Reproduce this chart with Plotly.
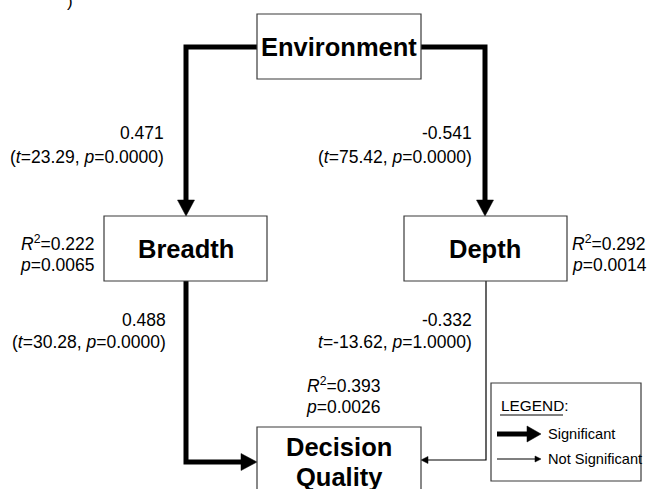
import plotly.graph_objects as go

# ---------------- data ----------------
node_names = ["Environment", "Breadth", "Depth", "Decision<br>Quality"]

path_from = ["Environment", "Environment", "Breadth", "Depth"]
path_to = ["Breadth", "Depth", "Decision<br>Quality", "Decision<br>Quality"]
path_coef = ["0.471", "-0.541", "0.488", "-0.332"]
path_t = ["23.29", "75.42", "30.28", "-13.62"]
path_p = ["0.0000", "0.0000", "0.0000", "1.0000"]
path_significant = [True, True, True, False]
path_open_paren = ["(", "(", "(", ""]

r2_node = ["Breadth", "Depth", "Decision<br>Quality"]
r2_value = ["0.222", "0.292", "0.393"]
r2_p = ["0.0065", "0.0014", "0.0026"]

legend_labels = ["Significant", "Not Significant"]

# ---------------- layout geometry (pixels) ----------------
W, H = 649, 489
FONT = "Liberation Sans, Arial, Helvetica, sans-serif"
BOX_LINE = "#3a3a3a"
LBL = 17.5
LEG = 14.6

boxes = {
    "Environment": (257, 14, 421, 79),
    "Breadth": (104, 216, 267, 281),
    "Depth": (404, 216, 567, 281),
    "Decision<br>Quality": (257, 427, 421, 505),
}
routes = [
    [(257, 47), (186, 47), (186, 216)],
    [(421, 47), (485, 47), (485, 216)],
    [(186, 281), (186, 462), (257, 462)],
    [(486, 281), (486, 460), (421, 460)],
]
coef_pos = [(166, 133, 157), (474, 133, 157), (168, 320, 342), (474, 320, 342)]
r2_pos = [(96, "right", 243, 265), (570, "left", 243, 265), (382, "right", 385, 407)]

fig = go.Figure()
shapes = []
annotations = []


def arrow_head(tip, direction, length, half):
    x, y = tip
    dx, dy = direction
    bx, by = x - dx * length, y - dy * length
    px, py = -dy, dx
    return (f"M {x},{y} L {bx + px * half},{by + py * half} "
            f"L {bx - px * half},{by - py * half} Z")


for i, route in enumerate(routes):
    sig = path_significant[i]
    lw = 5 if sig else 1.2
    hl, hh = (16, 8.5) if sig else (7, 3.5)
    (x2, y2), (x3, y3) = route[-2], route[-1]
    d = (1 if x3 > x2 else -1 if x3 < x2 else 0, 1 if y3 > y2 else -1 if y3 < y2 else 0)
    end = (x3 - d[0] * (hl - 1), y3 - d[1] * (hl - 1))
    pts = route[:-1] + [end]
    p = "M " + " L ".join(f"{a},{b}" for a, b in pts)
    shapes.append(dict(type="path", path=p, xref="x", yref="y",
                       line=dict(color="black", width=lw)))
    shapes.append(dict(type="path", path=arrow_head(route[-1], d, hl, hh),
                       xref="x", yref="y", fillcolor="black",
                       line=dict(color="black", width=0.5)))
    xr, y1, y2_ = coef_pos[i]
    annotations.append(dict(x=xr, y=y1, text=path_coef[i], xanchor="right",
                            yanchor="middle", showarrow=False,
                            font=dict(family=FONT, size=LBL, color="black")))
    annotations.append(dict(x=xr, y=y2_,
                            text=f"{path_open_paren[i]}<i>t</i>={path_t[i]}, <i>p</i>={path_p[i]})",
                            xanchor="right", yanchor="middle", showarrow=False,
                            font=dict(family=FONT, size=LBL, color="black")))

for name in node_names:
    x0, y0, x1, y1 = boxes[name]
    shapes.append(dict(type="rect", x0=x0, y0=y0, x1=x1, y1=y1, xref="x", yref="y",
                       fillcolor="white", line=dict(color=BOX_LINE, width=1.2)))

label_pos = {"Environment": (339, 47), "Breadth": (186, 249), "Depth": (485, 249)}
for name, (x, y) in label_pos.items():
    annotations.append(dict(x=x, y=y, text=f"<b>{name}</b>", showarrow=False,
                            xanchor="center", yanchor="middle",
                            font=dict(family=FONT, size=25.5, color="black")))
for line, y in zip(node_names[3].split("<br>"), [447, 477]):
    annotations.append(dict(x=339, y=y, text=f"<b>{line}</b>", showarrow=False,
                            xanchor="center", yanchor="middle",
                            font=dict(family=FONT, size=25.5, color="black")))

for i, name in enumerate(r2_node):
    x, anc, y1, y2 = r2_pos[i]
    annotations.append(dict(x=x, y=y1, text=f"<i>R</i><sup>2</sup>={r2_value[i]}",
                            xanchor=anc, yanchor="middle", showarrow=False,
                            font=dict(family=FONT, size=LBL, color="black")))
    annotations.append(dict(x=x, y=y2, text=f"<i>p</i>={r2_p[i]}",
                            xanchor=anc, yanchor="middle", showarrow=False,
                            font=dict(family=FONT, size=LBL, color="black")))

shapes.append(dict(type="rect", x0=491, y0=383, x1=641, y1=481, xref="x", yref="y",
                   fillcolor="white", line=dict(color=BOX_LINE, width=1.2)))
annotations.append(dict(x=499, y=405, text="LEGEND:", xanchor="left", yanchor="middle",
                        showarrow=False, font=dict(family=FONT, size=LEG + 0.8, color="black")))
shapes.append(dict(type="line", x0=500, x1=563, y0=415, y1=415, xref="x", yref="y",
                   line=dict(color="black", width=1)))
for j, (sig, y) in enumerate([(True, 434), (False, 459)]):
    lw = 5 if sig else 1.2
    hl, hh = (14, 8) if sig else (6, 3)
    shapes.append(dict(type="line", x0=497, x1=541 - hl + 1, y0=y, y1=y, xref="x", yref="y",
                       line=dict(color="black", width=lw)))
    shapes.append(dict(type="path", path=arrow_head((541, y), (1, 0), hl, hh),
                       xref="x", yref="y", fillcolor="black",
                       line=dict(color="black", width=0.5)))
    annotations.append(dict(x=546, y=y, text=legend_labels[j], xanchor="left",
                            yanchor="middle", showarrow=False,
                            font=dict(family=FONT, size=LEG, color="black")))

annotations.append(dict(x=70, y=1, text=")", xanchor="center", yanchor="middle",
                        showarrow=False, font=dict(family=FONT, size=17, color="black")))

fig.update_layout(
    width=W, height=H, margin=dict(l=0, r=0, t=0, b=0),
    paper_bgcolor="white", plot_bgcolor="white",
    xaxis=dict(range=[0, W], visible=False, fixedrange=True),
    yaxis=dict(range=[H, 0], visible=False, fixedrange=True),
    shapes=shapes, annotations=annotations, showlegend=False,
)
fig.write_html("out.html", config={"displayModeBar": False},
               post_script="document.body.style.margin='0';document.body.style.overflow='hidden';")
